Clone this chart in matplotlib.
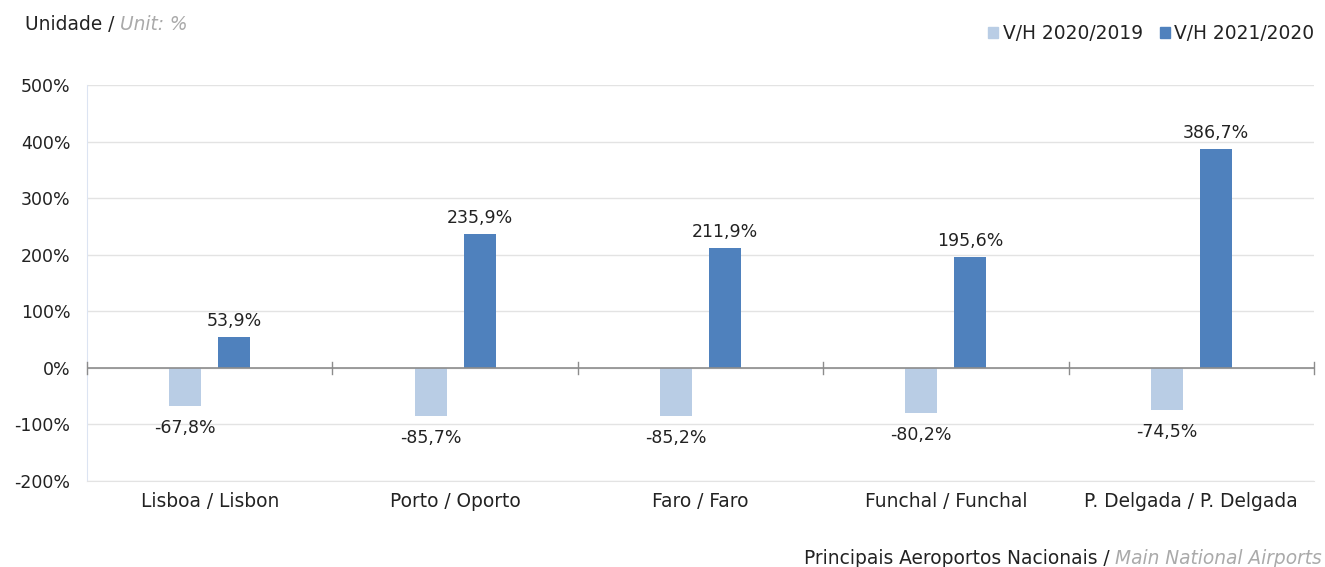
import matplotlib
matplotlib.use("Agg")
import matplotlib.pyplot as plt
import numpy as np
from matplotlib.patches import Patch

categories = ["Lisboa / Lisbon", "Porto / Oporto", "Faro / Faro", "Funchal / Funchal", "P. Delgada / P. Delgada"]
series_names = ["V/H 2020/2019", "V/H 2021/2020"]
v2020 = [-67.8, -85.7, -85.2, -80.2, -74.5]
v2021 = [53.9, 235.9, 211.9, 195.6, 386.7]
yticks = [-200, -100, 0, 100, 200, 300, 400, 500]

plt.rcParams['font.family'] = ['DejaVu Sans']
FS = 12.5    # numbers
FT = 13.4    # text
light = "#B9CDE5"
dark = "#4F81BD"
txt = "#222222"

fig = plt.figure(figsize=(13.25, 5.67), dpi=100)
ax = fig.add_axes([87/1325, 1-481/567, (1314-87)/1325, (481-85)/567])

x = np.arange(len(categories))
w = 0.13
off = 0.1
ax.bar(x - off, v2020, w, color=light, zorder=3)
ax.bar(x + off, v2021, w, color=dark, zorder=3)

def fmt(v):
    return f"{v:.1f}%".replace(".", ",")

for xi, v in zip(x, v2020):
    ax.annotate(fmt(v), (xi - off, v), xytext=(0, -9), textcoords="offset points",
                ha="center", va="top", fontsize=FS, color=txt)
for xi, v in zip(x, v2021):
    ax.annotate(fmt(v), (xi + off, v), xytext=(0, 5), textcoords="offset points",
                ha="center", va="bottom", fontsize=FS, color=txt)

ax.set_xlim(-0.5, len(categories) - 0.5)
ax.set_ylim(-200, 500)
ax.set_yticks(yticks)
ax.set_yticklabels([f"{t}%" for t in yticks], fontsize=FS, color=txt)
ax.yaxis.grid(True, color="#E3E3E3", linewidth=1, zorder=0)
ax.tick_params(axis="y", length=0, pad=12)
ax.set_xticks(x)
ax.set_xticklabels(categories, fontsize=FT, color=txt)
ax.tick_params(axis="x", length=0, pad=8)

for s in ["top", "right"]:
    ax.spines[s].set_visible(False)
ax.spines["bottom"].set_color("#E3E3E3")
ax.spines["left"].set_color("#DCE4F2")

ax.axhline(0, color="#8C8C8C", linewidth=1.2, zorder=4)
for b in np.arange(-0.5, len(categories), 1.0):
    ax.plot([b, b], [-10, 10], color="#8C8C8C", linewidth=1, zorder=4, clip_on=False)

t1 = fig.text(25/1325, 1-25/567, "Unidade / ", fontsize=FT, color=txt, va="center", ha="left")
fig.canvas.draw()
b1 = t1.get_window_extent()
fig.text(b1.x1/1325, 1-25/567, "Unit: %", fontsize=FT, color="#AAAAAA", style="italic", va="center", ha="left")

handles = [Patch(color=light), Patch(color=dark)]
leg = fig.legend(handles, series_names, loc="upper right", bbox_to_anchor=(1322/1325, 1-17/567),
                 ncol=2, frameon=False, fontsize=FT, handlelength=0.55, handleheight=0.55,
                 handletextpad=0.25, columnspacing=0.9, borderaxespad=0)
for t in leg.get_texts():
    t.set_color(txt)

t2 = fig.text(1322/1325, 1-558/567, "Main National Airports", fontsize=FT, color="#AAAAAA",
              style="italic", ha="right", va="center")
fig.canvas.draw()
bb = t2.get_window_extent()
fig.text(bb.x0/1325, 1-558/567, "Principais Aeroportos Nacionais / ", fontsize=FT, color=txt,
         ha="right", va="center")

fig.savefig("out.png", dpi=100)
